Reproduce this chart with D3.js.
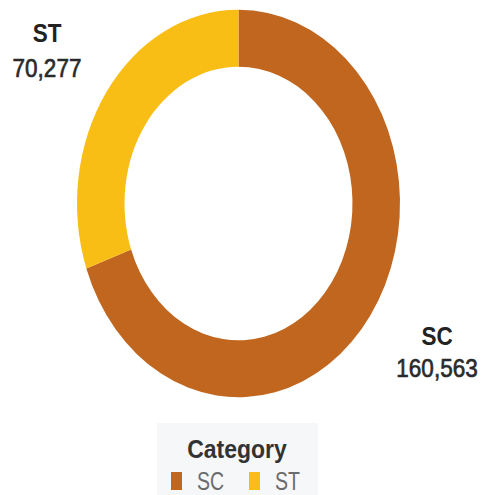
<!DOCTYPE html>
<html><head><meta charset="utf-8">
<script src="https://cdn.jsdelivr.net/npm/d3@7"></script>
<style>html,body{margin:0;padding:0;background:#fff;}svg{display:block;}</style>
</head><body>
<svg id="c" width="483" height="495"></svg>
<script>
const categories = ["SC", "ST"];
const values = [160563, 70277];
const colors = ["#C0661F", "#F9BE16"];
const legendTitle = "Category";

const svg = d3.select("#c");
const fmt = d3.format(",");
const cx = 238.5, cy = 203.5, R = 161.5, r = 114, sy = 1.2;

const pie = d3.pie().sort(null).value(d => d.v);
const data = pie(categories.map((c, i) => ({c, v: values[i]})));
const arc = d3.arc().innerRadius(r).outerRadius(R);
const color = d3.scaleOrdinal().domain(categories).range(colors);

const g = svg.append("g").attr("transform", `translate(${cx},${cy}) scale(1,${sy})`);
g.selectAll("path").data(data).join("path")
  .attr("d", arc).attr("fill", d => color(d.data.c));

// labels
const labelPos = {SC: [437, 345, 377], ST: [47, 42, 77]};
data.forEach(d => {
  const [x, y1, y2] = labelPos[d.data.c];
  svg.append("text").attr("transform", `translate(${x},${y1}) scale(1,1.15)`)
    .attr("text-anchor", "middle").attr("font-family", "Liberation Sans, Arial, sans-serif")
    .attr("font-weight", "bold").attr("font-size", 22.5).attr("fill", "#222")
    .text(d.data.c);
  svg.append("text").attr("transform", `translate(${x},${y2}) scale(1,1.15)`)
    .attr("text-anchor", "middle").attr("font-family", "Liberation Sans, Arial, sans-serif")
    .attr("font-size", 22.5).attr("fill", "#2a2a2a").attr("stroke", "#2a2a2a").attr("stroke-width", 0.6)
    .text(fmt(d.data.v));
});

// legend
svg.append("rect").attr("x", 157).attr("y", 423).attr("width", 161).attr("height", 72).attr("fill", "#f6f7f9");
svg.append("text").attr("transform", `translate(237,458) scale(1,1.15)`)
  .attr("text-anchor", "middle").attr("font-family", "Liberation Sans, Arial, sans-serif")
  .attr("font-weight", "bold").attr("font-size", 23).attr("fill", "#333").text(legendTitle);
const legX = [171, 249];
categories.forEach((c, i) => {
  svg.append("rect").attr("x", legX[i]).attr("y", 472).attr("width", 11).attr("height", 18).attr("fill", color(c));
  svg.append("text").attr("transform", `translate(${legX[i] + 26},490) scale(1,1.3)`)
    .attr("font-family", "Liberation Sans, Arial, sans-serif")
    .attr("font-size", 19.5).attr("fill", "#6b6b6b").text(c);
});
</script>
</body></html>
